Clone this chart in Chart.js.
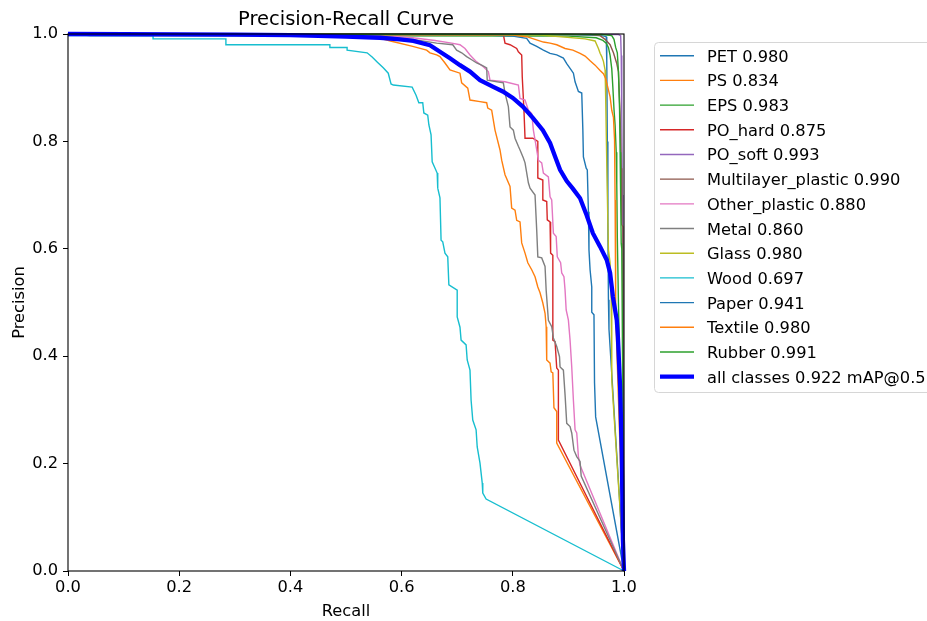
<!DOCTYPE html>
<html>
<head>
<meta charset="utf-8">
<title>Precision-Recall Curve</title>
<script src="https://cdn.jsdelivr.net/npm/chart.js@4.4.1/dist/chart.umd.min.js"></script>
<style>
  body { margin: 0; background: #fff; }
  #wrap { width: 927px; height: 621px; }
</style>
</head>
<body>
<div id="wrap"><canvas id="prChart" width="927" height="621"></canvas></div>
<script>
// [recall, precision] points
const pet = [[0,1],[0.9,0.999],[0.96,0.997],[0.968,0.995],[0.969,0.95],[0.970,0.80],[0.971,0.65],[0.972,0.505],[0.973,0.45],[1,0]];
const ps = [[0,1],[0.50,0.998],[0.55,0.995],[0.58,0.987],[0.62,0.977],[0.645,0.970],[0.651,0.965],[0.663,0.961],[0.669,0.958],[0.678,0.946],[0.687,0.933],[0.705,0.927],[0.708,0.909],[0.719,0.899],[0.723,0.877],[0.741,0.874],[0.753,0.872],[0.755,0.862],[0.762,0.858],[0.768,0.821],[0.777,0.784],[0.780,0.765],[0.786,0.738],[0.795,0.716],[0.798,0.676],[0.804,0.672],[0.807,0.653],[0.813,0.650],[0.816,0.611],[0.822,0.592],[0.827,0.574],[0.834,0.561],[0.840,0.548],[0.845,0.529],[0.849,0.518],[0.854,0.499],[0.858,0.480],[0.860,0.455],[0.861,0.393],[0.867,0.387],[0.869,0.371],[0.872,0.369],[0.874,0.304],[0.879,0.297],[0.879,0.238],[1,0]];
const eps = [[0,1],[0.04,0.997],[0.90,0.996],[0.95,0.993],[0.962,0.988],[0.968,0.983],[0.972,0.975],[0.975,0.96],[0.978,0.935],[0.980,0.90],[0.982,0.86],[0.984,0.83],[0.986,0.78],[0.987,0.72],[0.988,0.62],[0.990,0.5],[1,0]];
const poHard = [[0,1],[0.783,0.999],[0.786,0.983],[0.795,0.980],[0.807,0.973],[0.810,0.967],[0.816,0.961],[0.817,0.920],[0.820,0.860],[0.822,0.806],[0.836,0.806],[0.845,0.800],[0.845,0.732],[0.854,0.728],[0.854,0.691],[0.861,0.688],[0.862,0.654],[0.867,0.650],[0.868,0.592],[0.872,0.588],[0.872,0.430],[0.876,0.427],[0.879,0.378],[0.882,0.374],[0.882,0.244],[1,0]];
const poSoft = [[0,1],[0.99,0.999],[0.994,0.997],[0.995,0.96],[0.996,0.85],[0.997,0.70],[0.998,0.62],[1,0]];
const multilayer = [[0,1],[0.94,0.999],[0.957,0.997],[0.966,0.99],[0.975,0.98],[0.981,0.965],[0.987,0.945],[0.990,0.93],[0.993,0.85],[0.995,0.75],[0.996,0.645],[0.998,0.641],[0.998,0.22],[1,0]];
const otherPlastic = [[0,1],[0.55,0.998],[0.62,0.993],[0.66,0.988],[0.69,0.983],[0.705,0.980],[0.714,0.973],[0.723,0.961],[0.735,0.948],[0.747,0.939],[0.756,0.930],[0.759,0.914],[0.786,0.911],[0.810,0.905],[0.813,0.880],[0.822,0.877],[0.828,0.858],[0.834,0.852],[0.837,0.821],[0.840,0.803],[0.843,0.784],[0.846,0.765],[0.852,0.760],[0.855,0.741],[0.864,0.734],[0.867,0.697],[0.870,0.691],[0.873,0.629],[0.878,0.623],[0.880,0.585],[0.886,0.574],[0.888,0.555],[0.892,0.548],[0.894,0.523],[0.896,0.486],[0.900,0.467],[0.903,0.430],[0.906,0.380],[0.909,0.318],[0.912,0.263],[0.915,0.257],[0.918,0.213],[0.921,0.197],[1,0]];
const metal = [[0,1],[0.55,0.997],[0.62,0.99],[0.663,0.983],[0.692,0.980],[0.699,0.970],[0.708,0.965],[0.717,0.958],[0.726,0.952],[0.735,0.946],[0.744,0.942],[0.753,0.937],[0.754,0.914],[0.783,0.909],[0.786,0.890],[0.792,0.865],[0.795,0.827],[0.801,0.821],[0.804,0.806],[0.810,0.791],[0.813,0.784],[0.819,0.769],[0.822,0.760],[0.828,0.723],[0.831,0.713],[0.840,0.700],[0.843,0.635],[0.845,0.585],[0.852,0.583],[0.858,0.567],[0.860,0.523],[0.864,0.467],[0.870,0.455],[0.873,0.434],[0.879,0.418],[0.884,0.399],[0.885,0.380],[0.891,0.374],[0.894,0.328],[0.897,0.275],[0.903,0.269],[0.906,0.257],[0.910,0.225],[0.915,0.213],[0.921,0.204],[0.923,0.177],[1,0]];
const glass = [[0,1],[0.85,0.998],[0.93,0.991],[0.948,0.987],[0.954,0.973],[0.957,0.964],[0.960,0.958],[0.963,0.949],[0.966,0.933],[0.967,0.883],[0.969,0.760],[0.971,0.648],[0.972,0.598],[0.975,0.574],[0.977,0.505],[0.978,0.356],[1,0]];
const wood = [[0,0.997],[0.153,0.997],[0.153,0.991],[0.284,0.991],[0.284,0.980],[0.471,0.980],[0.471,0.975],[0.502,0.975],[0.502,0.970],[0.538,0.965],[0.547,0.957],[0.556,0.948],[0.567,0.937],[0.576,0.927],[0.581,0.907],[0.585,0.905],[0.619,0.901],[0.626,0.886],[0.631,0.872],[0.638,0.872],[0.640,0.853],[0.647,0.849],[0.649,0.831],[0.653,0.812],[0.655,0.762],[0.664,0.741],[0.665,0.713],[0.669,0.695],[0.671,0.616],[0.674,0.613],[0.678,0.592],[0.683,0.585],[0.685,0.533],[0.700,0.523],[0.700,0.473],[0.705,0.454],[0.707,0.430],[0.716,0.421],[0.718,0.393],[0.723,0.374],[0.725,0.318],[0.728,0.281],[0.734,0.263],[0.736,0.231],[0.741,0.201],[0.745,0.164],[0.746,0.145],[0.752,0.134],[1,0]];
const paper = [[0,1],[0.75,0.998],[0.80,0.996],[0.825,0.992],[0.831,0.983],[0.843,0.977],[0.855,0.970],[0.867,0.964],[0.879,0.961],[0.891,0.955],[0.897,0.945],[0.903,0.936],[0.909,0.927],[0.912,0.911],[0.918,0.893],[0.924,0.890],[0.926,0.821],[0.927,0.771],[0.932,0.750],[0.934,0.747],[0.936,0.669],[0.937,0.598],[0.939,0.561],[0.942,0.529],[0.942,0.482],[0.946,0.477],[0.947,0.350],[0.949,0.287],[1,0]];
const textile = [[0,1],[0.80,0.998],[0.825,0.995],[0.84,0.99],[0.855,0.985],[0.867,0.983],[0.879,0.980],[0.894,0.973],[0.908,0.970],[0.921,0.964],[0.930,0.959],[0.939,0.950],[0.948,0.942],[0.957,0.932],[0.963,0.926],[0.967,0.917],[0.972,0.896],[0.975,0.883],[0.978,0.858],[0.981,0.845],[0.983,0.803],[0.984,0.691],[0.985,0.505],[0.986,0.449],[1,0]];
const rubber = [[0,1],[0.96,0.999],[0.978,0.997],[0.982,0.99],[0.985,0.975],[0.988,0.965],[0.990,0.93],[0.992,0.86],[0.993,0.78],[0.994,0.70],[0.995,0.61],[0.996,0.60],[1,0]];
const allClasses = [[0,1],[0.3,0.999],[0.4,0.998],[0.5,0.995],[0.561,0.993],[0.597,0.990],[0.621,0.987],[0.651,0.979],[0.669,0.967],[0.687,0.955],[0.705,0.942],[0.723,0.930],[0.741,0.914],[0.764,0.902],[0.782,0.893],[0.800,0.881],[0.818,0.865],[0.836,0.844],[0.854,0.821],[0.867,0.797],[0.876,0.772],[0.885,0.747],[0.897,0.726],[0.908,0.712],[0.921,0.694],[0.933,0.662],[0.944,0.629],[0.957,0.604],[0.969,0.579],[0.975,0.555],[0.980,0.511],[0.987,0.467],[0.989,0.436],[0.993,0.343],[0.996,0.220],[0.998,0.058],[1,0]];

const classNames = ["PET", "PS", "EPS", "PO_hard", "PO_soft", "Multilayer_plastic", "Other_plastic", "Metal", "Glass", "Wood", "Paper", "Textile", "Rubber"];
const classAP = [0.980, 0.834, 0.983, 0.875, 0.993, 0.990, 0.880, 0.860, 0.980, 0.697, 0.941, 0.980, 0.991];
const classCurves = [pet, ps, eps, poHard, poSoft, multilayer, otherPlastic, metal, glass, wood, paper, textile, rubber];
const mAP = 0.922;
const axisTicks = [0, 0.2, 0.4, 0.6, 0.8, 1.0];

const tab10 = ["#1f77b4", "#ff7f0e", "#2ca02c", "#d62728", "#9467bd", "#8c564b", "#e377c2", "#7f7f7f", "#bcbd22", "#17becf"];
const FONT = "'DejaVu Sans', sans-serif";

function toPoints(arr) {
  return arr.map((p) => ({ x: p[0], y: p[1] }));
}

let datasets = [];
for (let i = 0; i < classNames.length; i++) {
  datasets.push({
    label: classNames[i] + " " + classAP[i].toFixed(3),
    data: toPoints(classCurves[i]),
    borderColor: tab10[i % 10],
    borderWidth: 1.4,
    pointRadius: 0,
    tension: 0,
    clip: false,
    order: classNames.length - i,
  });
}
datasets.push({
  label: "all classes " + mAP.toFixed(3) + " mAP@0.5",
  data: toPoints(allClasses),
  borderColor: "#0000ff",
  borderWidth: 4.3,
  pointRadius: 0,
  tension: 0,
  clip: false,
  order: 0,
});

// frame, title, axis labels and the outside legend, drawn like matplotlib
const mplDecor = {
  id: "mplDecor",
  afterDatasetsDraw(chart) {
    const ctx = chart.ctx;
    const a = chart.chartArea;
    ctx.save();
    ctx.strokeStyle = "#000";
    ctx.lineWidth = 1.1;
    ctx.strokeRect(a.left, a.top, a.right - a.left, a.bottom - a.top);
    ctx.restore();
  },
  afterDraw(chart) {
    const ctx = chart.ctx;
    const a = chart.chartArea;
    const cx = (a.left + a.right) / 2;
    ctx.save();
    ctx.fillStyle = "#000";
    ctx.textAlign = "center";
    ctx.textBaseline = "alphabetic";
    ctx.font = "19.5px " + FONT;
    ctx.fillText("Precision-Recall Curve", cx, 25);
    ctx.font = "16.25px " + FONT;
    ctx.fillText("Recall", cx, 616);
    ctx.save();
    ctx.translate(24, (a.top + a.bottom) / 2);
    ctx.rotate(-Math.PI / 2);
    ctx.fillText("Precision", 0, 0);
    ctx.restore();

    // legend box
    const bx = 654.5, by = 42.5, bw = 300, bh = 350, r = 4;
    ctx.beginPath();
    ctx.moveTo(bx + r, by);
    ctx.lineTo(bx + bw, by);
    ctx.lineTo(bx + bw, by + bh);
    ctx.lineTo(bx + r, by + bh);
    ctx.arcTo(bx, by + bh, bx, by + bh - r, r);
    ctx.lineTo(bx, by + r);
    ctx.arcTo(bx, by, bx + r, by, r);
    ctx.closePath();
    ctx.fillStyle = "rgba(255,255,255,0.8)";
    ctx.fill();
    ctx.strokeStyle = "#d6d6d6";
    ctx.lineWidth = 1;
    ctx.stroke();

    ctx.textAlign = "left";
    chart.data.datasets.forEach((ds, i) => {
      const y = 55.7 + i * 24.69;
      ctx.beginPath();
      ctx.strokeStyle = ds.borderColor;
      ctx.lineWidth = ds.borderWidth;
      ctx.moveTo(660, y);
      ctx.lineTo(694, y);
      ctx.stroke();
      ctx.fillStyle = "#000";
      ctx.fillText(ds.label, 707, y + 6);
    });
    ctx.restore();
  },
};

const tickFont = { family: FONT, size: 16.25 };

new Chart(document.getElementById("prChart"), {
  type: "line",
  data: { datasets: datasets },
  options: {
    responsive: false,
    animation: false,
    layout: { padding: { left: 0, top: 34, right: 303, bottom: 0 } },
    scales: {
      x: {
        type: "linear",
        min: 0,
        max: 1,
        afterFit: (s) => { s.height = 50; },
        afterBuildTicks: (s) => { s.ticks = axisTicks.map((v) => ({ value: v })); },
        ticks: {
          color: "#000",
          font: tickFont,
          padding: 2,
          maxRotation: 0,
          callback: (v) => Number(v).toFixed(1),
        },
        grid: { drawOnChartArea: false, drawTicks: true, tickLength: 5, tickColor: "#000", tickWidth: 1 },
        border: { display: false },
      },
      y: {
        type: "linear",
        min: 0,
        max: 1,
        afterFit: (s) => { s.width = 68; },
        afterBuildTicks: (s) => { s.ticks = axisTicks.map((v) => ({ value: v })); },
        ticks: {
          color: "#000",
          font: tickFont,
          padding: 5,
          callback: (v) => Number(v).toFixed(1),
        },
        grid: { drawOnChartArea: false, drawTicks: true, tickLength: 5, tickColor: "#000", tickWidth: 1 },
        border: { display: false },
      },
    },
    plugins: {
      legend: { display: false },
      tooltip: { enabled: false },
    },
  },
  plugins: [mplDecor],
});
</script>
</body>
</html>
